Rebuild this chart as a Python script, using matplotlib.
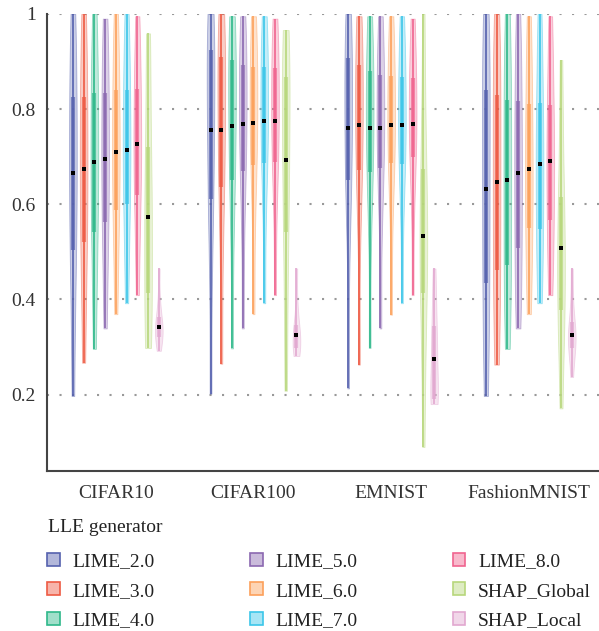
import numpy as np
import matplotlib
matplotlib.use("Agg")
import matplotlib.pyplot as plt
from matplotlib.patches import Patch
from matplotlib.colors import to_rgba

plt.rcParams['font.family'] = ['Liberation Serif', 'DejaVu Serif']

datasets = ['CIFAR10', 'CIFAR100', 'EMNIST', 'FashionMNIST']
generators = ['LIME_2.0', 'LIME_3.0', 'LIME_4.0', 'LIME_5.0', 'LIME_6.0',
              'LIME_7.0', 'LIME_8.0', 'SHAP_Global', 'SHAP_Local']
colors = ['#5561AE', '#EE5A43', '#2EB88A', '#8B68B0', '#FCA05A',
          '#3CC6E9', '#F0648F', '#B7D77B', '#E2A8D0']

# min, p12.5, q1, p37.5, median, p62.5, q3, p87.5, max
cifar10 = [
    [0.197, 0.40, 0.504, 0.59, 0.665, 0.745, 0.826, 0.92, 1.0],
    [0.267, 0.43, 0.521, 0.60, 0.675, 0.75, 0.826, 0.92, 1.0],
    [0.296, 0.45, 0.542, 0.62, 0.688, 0.76, 0.833, 0.92, 1.0],
    [0.339, 0.47, 0.563, 0.63, 0.696, 0.765, 0.833, 0.92, 0.99],
    [0.369, 0.50, 0.588, 0.65, 0.709, 0.775, 0.839, 0.92, 1.0],
    [0.392, 0.51, 0.600, 0.66, 0.715, 0.78, 0.840, 0.92, 1.0],
    [0.409, 0.53, 0.619, 0.67, 0.726, 0.785, 0.842, 0.92, 0.995],
    [0.298, 0.325, 0.413, 0.50, 0.574, 0.64, 0.721, 0.87, 0.959],
    [0.292, 0.315, 0.321, 0.33, 0.343, 0.352, 0.364, 0.40, 0.465],
]
cifar100 = [
    [0.202, 0.50, 0.612, 0.70, 0.755, 0.86, 0.924, 0.96, 1.0],
    [0.265, 0.52, 0.637, 0.71, 0.755, 0.85, 0.910, 0.96, 1.0],
    [0.297, 0.54, 0.651, 0.72, 0.764, 0.85, 0.903, 0.95, 0.995],
    [0.339, 0.56, 0.670, 0.73, 0.768, 0.84, 0.893, 0.95, 0.995],
    [0.369, 0.58, 0.682, 0.74, 0.770, 0.84, 0.889, 0.95, 0.995],
    [0.392, 0.59, 0.686, 0.74, 0.774, 0.84, 0.889, 0.95, 0.995],
    [0.409, 0.60, 0.689, 0.74, 0.774, 0.84, 0.886, 0.94, 0.99],
    [0.208, 0.40, 0.542, 0.63, 0.694, 0.80, 0.868, 0.91, 0.966],
    [0.281, 0.288, 0.297, 0.31, 0.326, 0.335, 0.346, 0.39, 0.465],
]
emnist = [
    [0.213, 0.55, 0.651, 0.71, 0.760, 0.84, 0.907, 0.96, 1.0],
    [0.263, 0.57, 0.672, 0.72, 0.766, 0.84, 0.893, 0.95, 0.995],
    [0.298, 0.57, 0.668, 0.72, 0.760, 0.83, 0.880, 0.94, 0.995],
    [0.339, 0.58, 0.677, 0.72, 0.760, 0.83, 0.872, 0.94, 0.995],
    [0.368, 0.60, 0.687, 0.73, 0.766, 0.83, 0.870, 0.94, 0.995],
    [0.392, 0.60, 0.685, 0.73, 0.766, 0.83, 0.868, 0.94, 0.995],
    [0.409, 0.61, 0.699, 0.74, 0.769, 0.83, 0.865, 0.93, 0.99],
    [0.090, 0.30, 0.413, 0.48, 0.533, 0.58, 0.673, 0.80, 1.0],
    [0.180, 0.185, 0.19, 0.23, 0.274, 0.31, 0.344, 0.40, 0.465],
]
fashion = [
    [0.197, 0.33, 0.434, 0.54, 0.633, 0.74, 0.840, 0.93, 1.0],
    [0.263, 0.37, 0.462, 0.56, 0.646, 0.74, 0.830, 0.92, 1.0],
    [0.296, 0.39, 0.472, 0.57, 0.650, 0.74, 0.819, 0.92, 1.0],
    [0.339, 0.42, 0.509, 0.59, 0.665, 0.74, 0.816, 0.91, 1.0],
    [0.369, 0.46, 0.550, 0.61, 0.673, 0.75, 0.810, 0.91, 0.995],
    [0.392, 0.47, 0.549, 0.62, 0.684, 0.75, 0.812, 0.91, 1.0],
    [0.409, 0.49, 0.567, 0.63, 0.690, 0.75, 0.809, 0.90, 0.995],
    [0.171, 0.33, 0.377, 0.42, 0.509, 0.56, 0.616, 0.75, 0.903],
    [0.237, 0.28, 0.297, 0.315, 0.326, 0.335, 0.353, 0.40, 0.465],
]
all_data = [cifar10, cifar100, emnist, fashion]

fig = plt.figure(figsize=(5.99, 6.31), dpi=100)
ax = fig.add_axes([0.0785, 0.254, 0.9215, 0.724])

step = 0.078
for gi, group in enumerate(all_data):
    for k, vals in enumerate(group):
        pos = gi + (k - 4) * step
        c = colors[k]
        parts = ax.violinplot([vals], positions=[pos], widths=0.056,
                              showextrema=False, bw_method=0.5)
        for b in parts['bodies']:
            b.set_alpha(None)
            b.set_facecolor(to_rgba(c, 0.3))
            b.set_edgecolor(to_rgba(c, 0.45))
            b.set_linewidth(0.6)
            b.set_zorder(2)
        q1, med, q3 = np.percentile(vals, [25, 50, 75])
        ax.vlines(pos, min(vals), max(vals), color=c, lw=1.2, zorder=3)
        ax.vlines(pos, q1, q3, color=to_rgba(c, 0.7), lw=3, zorder=3)
        ax.scatter([pos], [med], marker='s', s=5, color='black',
                   linewidths=0, zorder=5)

ax.set_xlim(-0.5, 3.51)
ax.set_ylim(0.04, 1.0)
ax.set_xticks(range(len(datasets)))
ax.set_xticklabels(datasets)
ax.set_yticks([0.2, 0.4, 0.6, 0.8, 1.0])
ax.set_yticklabels(['0.2', '0.4', '0.6', '0.8', '1'])
ax.tick_params(axis='both', length=0, labelsize=14, labelcolor='#333333')
ax.tick_params(axis='y', pad=8)
ax.tick_params(axis='x', pad=10)

ax.yaxis.grid(True, linestyle=(0, (1, 5)), lw=1.5, color='#999999')
ax.set_axisbelow(True)
for s in ['top', 'right']:
    ax.spines[s].set_visible(False)
for s in ['left', 'bottom']:
    ax.spines[s].set_color('#444444')
    ax.spines[s].set_linewidth(1.5)

fig.text(0.08, 1 - 527 / 631, 'LLE generator', fontsize=14,
         color='#222222', va='center', ha='left')
handles = [Patch(facecolor=to_rgba(c, 0.45), edgecolor=c, lw=1.2) for c in colors]
leg = fig.legend(handles, generators, ncol=3, loc='upper left',
                 bbox_to_anchor=(0.079, 1 - 553 / 631), frameon=False,
                 fontsize=14, handlelength=0.65, handleheight=0.65,
                 handletextpad=0.65, labelspacing=0.62, columnspacing=4.9,
                 borderpad=0, borderaxespad=0)
for t in leg.get_texts():
    t.set_color('#222222')

fig.savefig('out.png', dpi=100)
